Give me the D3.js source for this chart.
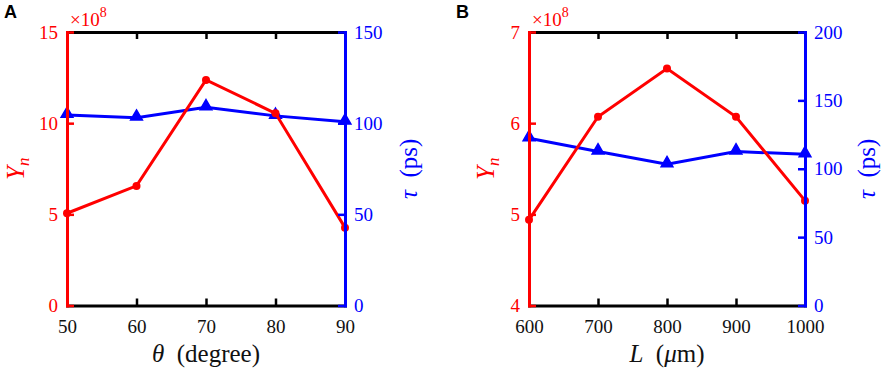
<!DOCTYPE html>
<html>
<head>
<meta charset="utf-8">
<script src="https://cdn.jsdelivr.net/npm/d3@7"></script>
<style>
  body { margin: 0; background: #fff; }
  svg { display: block; }
</style>
</head>
<body>
<div id="chart"></div>
<script>
// panel A: yield / lifetime vs angle
let thetaDeg = [50, 60, 70, 80, 90];
let yieldA = [5.06, 6.56, 12.37, 10.54, 4.27];   // x10^8
let tauA = [104.5, 103, 108.7, 104, 100.8];      // ps
let thetaTicks = [50, 60, 70, 80, 90];
let yieldTicksA = [0, 5, 10, 15];
let tauTicksA = [0, 50, 100, 150];

// panel B: yield / lifetime vs length
let lengthUm = [600, 700, 800, 900, 1000];
let yieldB = [4.94, 6.07, 6.6, 6.07, 5.15];      // x10^8
let tauB = [122.3, 112.6, 103.3, 112.6, 110.6];  // ps
let lengthTicks = [600, 700, 800, 900, 1000];
let yieldTicksB = [4, 5, 6, 7];
let tauTicksB = [0, 50, 100, 150, 200];

let W = 886, H = 373;
let red = "#ff0000", blue = "#0000ff";
let serif = "\"Liberation Serif\", \"Times New Roman\", \"DejaVu Serif\", serif";

let svg = d3.select("#chart").append("svg")
    .attr("width", W)
    .attr("height", H);

function drawPanel(p) {
    let xScale = d3.scaleLinear().domain(d3.extent(p.xTicks)).range([p.left, p.right]);
    let yL = d3.scaleLinear().domain(d3.extent(p.yLTicks)).range([p.bottom, p.top]);
    let yR = d3.scaleLinear().domain(d3.extent(p.yRTicks)).range([p.bottom, p.top]);
    let fmt = d3.format("d");

    let g = svg.append("g");

    // black top / bottom axes
    let bottomAx = g.append("g")
        .attr("transform", "translate(0," + p.bottom + ")")
        .call(d3.axisBottom(xScale).tickValues(p.xTicks).tickFormat(fmt).tickSizeInner(-7).tickSizeOuter(0).tickPadding(14));
    let topAx = g.append("g")
        .attr("transform", "translate(0," + p.top + ")")
        .call(d3.axisTop(xScale).tickValues(p.xTicks).tickSizeInner(-7).tickSizeOuter(0).tickFormat(""));
    [bottomAx, topAx].forEach(function(a) {
        a.attr("font-family", null).attr("font-size", null);
        a.select(".domain").attr("stroke", "#000").attr("stroke-width", 3).attr("stroke-linecap", "square");
        a.selectAll(".tick line").attr("stroke", "#000").attr("stroke-width", 2.5);
    });
    bottomAx.selectAll("text")
        .attr("fill", "#111")
        .attr("font-family", serif)
        .attr("font-size", 19);

    // data: blue first, red on top
    let lineR = d3.line().x(function(d, i) { return xScale(p.x[i]); }).y(function(d) { return yR(d); });
    let lineL = d3.line().x(function(d, i) { return xScale(p.x[i]); }).y(function(d) { return yL(d); });

    g.append("path").datum(p.tau)
        .attr("d", lineR)
        .attr("fill", "none")
        .attr("stroke", blue)
        .attr("stroke-width", 3);
    g.selectAll(".tri").data(p.tau).enter().append("path")
        .attr("d", d3.symbol().type(d3.symbolTriangle).size(60))
        .attr("transform", function(d, i) { return "translate(" + xScale(p.x[i]) + "," + (yR(d) - 1) + ")"; })
        .attr("fill", blue)
        .attr("stroke", blue)
        .attr("stroke-width", 1.5);

    g.append("path").datum(p.yld)
        .attr("d", lineL)
        .attr("fill", "none")
        .attr("stroke", red)
        .attr("stroke-width", 3);
    g.selectAll(".dot").data(p.yld).enter().append("circle")
        .attr("cx", function(d, i) { return xScale(p.x[i]); })
        .attr("cy", function(d) { return yL(d); })
        .attr("r", 4)
        .attr("fill", red);

    // red left axis, blue right axis (ticks point inward)
    let leftAx = g.append("g")
        .attr("transform", "translate(" + p.left + ",0)")
        .call(d3.axisLeft(yL).tickValues(p.yLTicks).tickFormat(fmt).tickSizeInner(-7).tickSizeOuter(0).tickPadding(9));
    let rightAx = g.append("g")
        .attr("transform", "translate(" + p.right + ",0)")
        .call(d3.axisRight(yR).tickValues(p.yRTicks).tickFormat(fmt).tickSizeInner(-7).tickSizeOuter(0).tickPadding(9));
    [[leftAx, red], [rightAx, blue]].forEach(function(a) {
        a[0].attr("font-family", null).attr("font-size", null);
        a[0].select(".domain").attr("stroke", a[1]).attr("stroke-width", 3).attr("stroke-linecap", "square");
        a[0].selectAll(".tick line").attr("stroke", a[1]).attr("stroke-width", 2.5);
        a[0].selectAll("text")
            .attr("fill", a[1])
            .attr("font-family", serif)
            .attr("font-size", 19);
    });

    // x10^8 multiplier
    let mult = g.append("text")
        .attr("x", p.left + 3)
        .attr("y", p.top - 6)
        .attr("fill", red)
        .attr("font-family", serif)
        .attr("font-size", 19);
    mult.append("tspan").text("\u00d710");
    mult.append("tspan").attr("dy", -9).attr("font-size", 14).text("8");

    // x axis title
    let xt = g.append("text")
        .attr("x", (p.left + p.right) / 2)
        .attr("y", 362)
        .attr("text-anchor", "middle")
        .attr("fill", "#111")
        .attr("font-family", serif)
        .attr("font-size", 25);
    p.xTitle.forEach(function(s) {
        xt.append("tspan").attr("font-style", s[1] ? "italic" : "normal").text(s[0]);
    });

    // left title Y_n
    let cy = (p.top + p.bottom) / 2;
    let yt = g.append("text")
        .attr("transform", "translate(" + p.yLx + "," + cy + ") rotate(-90)")
        .attr("text-anchor", "middle")
        .attr("fill", red)
        .attr("font-family", serif)
        .attr("font-size", 25);
    yt.append("tspan").attr("font-style", "italic").text("Y");
    yt.append("tspan").attr("dy", 5).attr("font-style", "italic").attr("font-size", 17).text("n");

    // right title tau (ps)
    let rt = g.append("text")
        .attr("transform", "translate(" + p.yRx + "," + cy + ") rotate(-90)")
        .attr("text-anchor", "middle")
        .attr("fill", blue)
        .attr("font-family", serif)
        .attr("font-size", 25);
    rt.append("tspan").attr("font-style", "italic").text("\u03c4");
    rt.append("tspan").text("\u2002(ps)");

    // panel letter
    svg.append("text")
        .attr("x", p.letterX)
        .attr("y", 18)
        .attr("fill", "#000")
        .attr("font-family", "\"Liberation Sans\", Arial, sans-serif")
        .attr("font-weight", "bold")
        .attr("font-size", 18)
        .text(p.letter);
}

drawPanel({
    letter: "A", letterX: 4,
    left: 67, right: 345, top: 32, bottom: 305.5,
    x: thetaDeg, yld: yieldA, tau: tauA,
    xTicks: thetaTicks, yLTicks: yieldTicksA, yRTicks: tauTicksA,
    xTitle: [["\u03b8", true], ["\u2002(degree)", false]],
    yLx: 24, yRx: 417
});

drawPanel({
    letter: "B", letterX: 456,
    left: 529, right: 805, top: 32, bottom: 305.5,
    x: lengthUm, yld: yieldB, tau: tauB,
    xTicks: lengthTicks, yLTicks: yieldTicksB, yRTicks: tauTicksB,
    xTitle: [["L", true], ["\u2002(", false], ["\u03bc", true], ["m)", false]],
    yLx: 494, yRx: 875
});
</script>
</body>
</html>
